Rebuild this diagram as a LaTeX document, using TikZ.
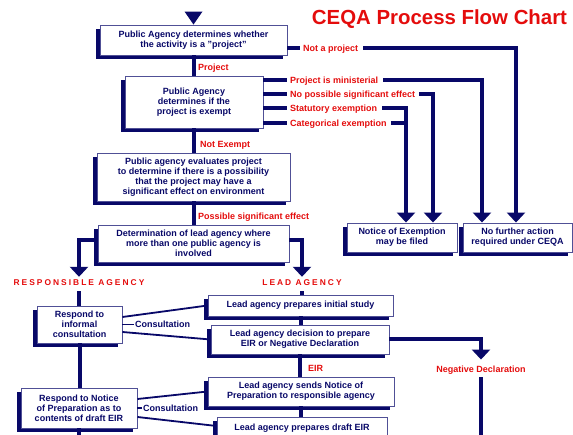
\documentclass[tikz,border=0pt]{standalone}
\usepackage{fontspec}
\setmainfont{Liberation Sans}
\usetikzlibrary{arrows.meta,shadows}
\definecolor{navy}{RGB}{8,8,104}
\definecolor{bord}{RGB}{80,80,150}
\definecolor{lab}{RGB}{228,12,12}
\begin{document}
\begin{tikzpicture}[x=1pt,y=-1pt,
  box/.style={draw=bord,line width=0.9pt,fill=white,text=navy,align=center,inner sep=0pt,
    font=\bfseries\fontsize{9}{10}\selectfont,
    general shadow={fill=navy,shadow xshift=-4pt,shadow yshift=-4pt}},
  conn/.style={draw=navy,line width=4pt},
  thinconn/.style={draw=navy,line width=1.8pt},
  arr/.style={conn,-{Triangle[width=18pt,length=10pt]}},
  lbl/.style={text=lab,font=\bfseries\fontsize{9}{10}\selectfont,inner sep=0pt,
    text height=6.5pt,text depth=0pt,anchor=west},
  cons/.style={lbl,text=navy},
  biglbl/.style={text=lab,font=\bfseries\fontsize{8.4}{10}\selectfont\addfontfeature{LetterSpace=24},
    inner sep=0pt,text height=6pt,text depth=0pt},
  ttl/.style={text=lab,font=\bfseries\fontsize{20.4}{24}\selectfont,inner sep=0pt,
    text height=14.6pt,text depth=0pt}
]
\useasboundingbox (0,0) rectangle (573,435);

% column coordinates
\coordinate (colA) at (406,0);
\coordinate (colB) at (433,0);
\coordinate (colC) at (482,0);
\coordinate (colD) at (516,0);
\coordinate (rend) at (79,450);
\coordinate (negend) at (481,450);

% title
\node[ttl] (title) at (439.5,17.5) {CEQA Process Flow Chart};

% boxes
\node[box,minimum width=187pt,minimum height=30pt] (b1) at (193.5,40) {Public Agency determines whether\\the activity is a \symbol{34}project\symbol{34}};
\node[box,minimum width=138pt,minimum height=52pt] (b2) at (194,102) {Public Agency\\determines if the\\project is exempt};
\node[box,minimum width=193pt,minimum height=48pt] (b3) at (193.5,177) {Public agency evaluates project\\to determine if there is a possibility\\that the project may have a\\significant effect on environment};
\node[box,minimum width=191pt,minimum height=37pt] (b4) at (193.5,243.5) {Determination of lead agency where\\more than one public agency is\\involved};
\node[box,minimum width=110pt,minimum height=29pt] (ne) at (402,237.5) {Notice of Exemption\\may be filed};
\node[box,minimum width=109pt,minimum height=29pt] (nf) at (517.5,237.5) {No further action\\required under CEQA};
\node[box,minimum width=85pt,minimum height=37pt] (r1) at (79.5,324.5) {Respond to\\informal\\consultation};
\node[box,minimum width=116pt,minimum height=40pt] (r2) at (79,408) {Respond to Notice\\of Preparation as to\\contents of draft EIR};
\node[box,minimum width=185pt,minimum height=21pt] (l1) at (300.5,305.5) {Lead agency prepares initial study};
\node[box,minimum width=178pt,minimum height=29pt] (l2) at (300,339.5) {Lead agency decision to prepare\\EIR or Negative Declaration};
\node[box,minimum width=186pt,minimum height=29pt] (l3) at (301,391.5) {Lead agency sends Notice of\\Preparation to responsible agency};
\node[box,minimum width=170pt,minimum height=22pt] (l4) at (302,428) {Lead agency prepares draft EIR};

% labels
\node[lbl] (lproj) at (198,67) {Project};
\node[lbl] (lnot) at (303,48) {Not a project};
\node[lbl] (lmin) at (290,80) {Project is ministerial};
\node[lbl] (lnop) at (290,94) {No possible significant effect};
\node[lbl] (lstat) at (290,108) {Statutory exemption};
\node[lbl] (lcat) at (290,123) {Categorical exemption};
\node[lbl] (lnex) at (200,144) {Not Exempt};
\node[lbl] (lpos) at (198,216) {Possible significant effect};
\node[lbl] (leir) at (308,368) {EIR};
\node[lbl,anchor=center] (lneg) at (481,369) {Negative Declaration};
\node[biglbl] (rlab) at (79,283) {RESPONSIBLE AGENCY};
\node[biglbl] (llab) at (302,283) {LEAD AGENCY};
\node[cons] (cons1) at (135,324.5) {Consultation};
\node[cons] (cons2) at (143,408) {Consultation};

% top arrow
\fill[navy] (b1.north) -- ++(-9,-13) -- ++(18,0) -- cycle;

% main vertical flow
\draw[conn] (b1.south) -- (b1.south |- b2.north);
\draw[conn] (b2.south) -- (b2.south |- b3.north);
\draw[conn] (b3.south) -- (b3.south |- b4.north);

% not a project
\draw[conn] (b1.east |- lnot.west) -- ([xshift=-3pt]lnot.west);
\draw[arr] ([xshift=5pt]lnot.east) -| (colD |- nf.north);
% exemptions
\draw[conn] (b2.east |- lmin.west) -- ([xshift=-3pt]lmin.west);
\draw[arr] ([xshift=5pt]lmin.east) -| (colC |- nf.north);
\draw[conn] (b2.east |- lnop.west) -- ([xshift=-3pt]lnop.west);
\draw[arr] ([xshift=4pt]lnop.east) -| (colB |- ne.north);
\draw[conn] (b2.east |- lstat.west) -- ([xshift=-3pt]lstat.west);
\draw[arr] ([xshift=5pt]lstat.east) -| (colA |- ne.north);
\draw[conn] (b2.east |- lcat.west) -- ([xshift=-3pt]lcat.west);
\draw[conn] ([xshift=4pt]lcat.east) -| (colA |- lstat.west);

% split to agencies
\draw[arr] ([yshift=3.5pt]b4.west) -| ([yshift=3pt]rlab.north);
\draw[arr] ([yshift=3.5pt]b4.east) -| ([yshift=3pt]llab.north);

% responsible agency column
\draw[conn] ([yshift=-5pt]rlab.south) -- (rlab.south |- r1.north);
\draw[conn] (r1.south) -- (r1.south |- r2.north);
\draw[conn] (r2.south) -- (rend);

% lead agency column
\draw[conn] ([yshift=-5pt]llab.south) -- (llab.south |- l1.north);
\draw[conn] (l1.south) -- (l1.south |- l2.north);
\draw[conn] (l2.south) -- (l2.south |- l3.north);
\draw[conn] (l3.south) -- (l3.south |- l4.north);
\draw[arr] (l2.east) -| ([yshift=6pt]lneg.north);
\draw[conn] ([yshift=-5pt]lneg.south) -- (negend);

% consultation
\draw[thinconn] ([yshift=7.5pt]r1.east) -- (l1.west);
\draw[thinconn] ([yshift=-7.5pt]r1.east) -- (l2.west);
\draw[thinconn] (r1.east |- cons1.west) -- ([xshift=-1pt]cons1.west);
\draw[thinconn] ([yshift=9pt]r2.east) -- (l3.west);
\draw[thinconn] ([yshift=-9pt]r2.east) -- ([yshift=2pt]l4.west);
\draw[thinconn] (r2.east |- cons2.west) -- ([xshift=-1pt]cons2.west);
\end{tikzpicture}
\end{document}
